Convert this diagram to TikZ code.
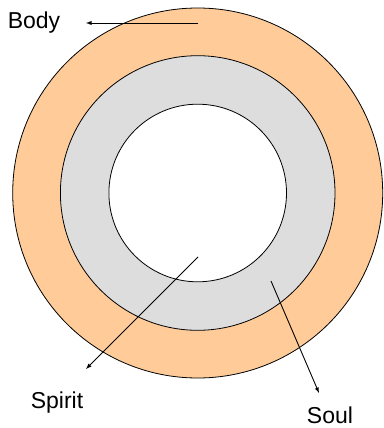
\documentclass[tikz,border=0pt]{standalone}
\usepackage{fontspec}
\setmainfont{Liberation Sans}
\definecolor{bodyc}{RGB}{255,204,153}
\definecolor{soulc}{RGB}{221,221,221}
\begin{document}
\begin{tikzpicture}[x=1pt,y=-1pt,
  ring/.style={draw=black,line width=0.8pt},
  arr/.style={-latex,line width=0.9pt},
  lbl/.style={font=\fontsize{23}{25}\selectfont,inner sep=0pt,anchor=base}]
\useasboundingbox (0,0) rectangle (383,428);
\node[ring,circle,fill=bodyc,minimum size=370pt,inner sep=0pt] (outer) at (197.7,193) {};
\node[ring,circle,fill=soulc,minimum size=274.6pt,inner sep=0pt] (middle) at (197.7,193) {};
\node[ring,circle,fill=white,minimum size=177.6pt,inner sep=0pt] (inner) at (197.7,193) {};
\node[lbl] (body) at (34,28.5) {Body};
\node[lbl] (spirit) at (57,408) {Spirit};
\node[lbl] (soul) at (330,423) {Soul};
\coordinate (b1) at (198,23);
\coordinate (b2) at (86,23);
\coordinate (s1) at (198,257);
\coordinate (s2) at (86,369);
\coordinate (o1) at (271,281);
\coordinate (o2) at (319,393);
\draw[arr] (b1) -- (b2);
\draw[arr] (s1) -- (s2);
\draw[arr] (o1) -- (o2);
\end{tikzpicture}
\end{document}
